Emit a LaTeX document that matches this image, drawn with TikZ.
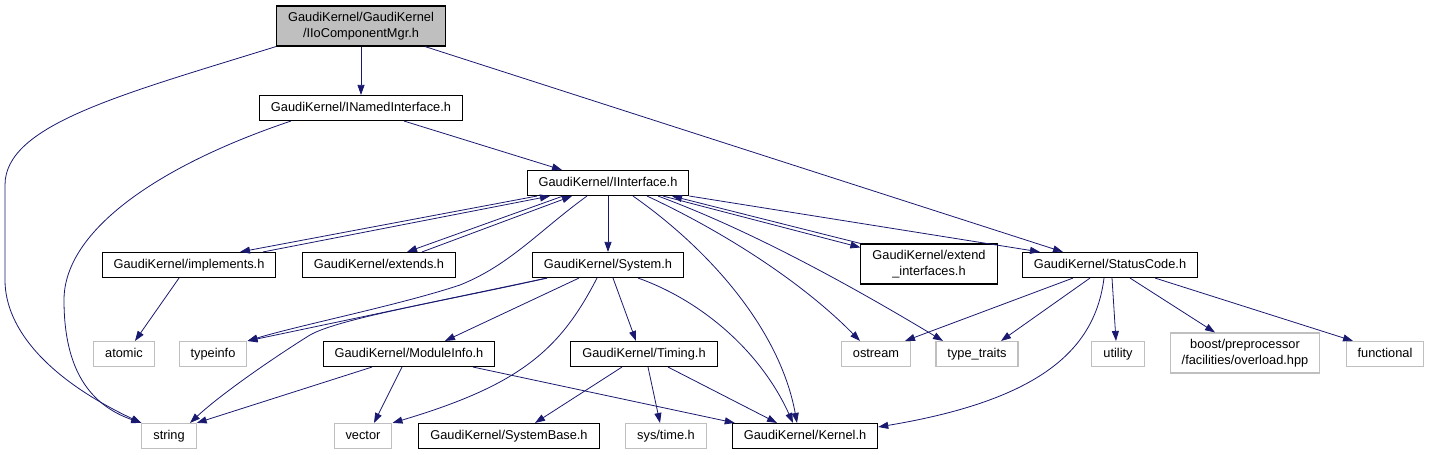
\documentclass[tikz,border=0pt]{standalone}
\usepackage{fontspec}
\setmainfont{Liberation Sans}
\usetikzlibrary{arrows.meta}
\definecolor{edgeblue}{HTML}{191970}
\definecolor{grey75}{HTML}{BFBFBF}
\begin{document}
\begin{tikzpicture}[x=1bp, y=-1bp, ->, >={Triangle[length=10bp,width=7bp]}, draw=edgeblue, line width=0.8bp]
\tikzstyle{every node}=[font=\fontsize{12.8bp}{15.5bp}\selectfont, text=black]
\tikzstyle{box}=[draw=black, fill=white, line width=1.1bp, inner xsep=11.5bp, inner ysep=0bp, align=center]
\tikzstyle{hdr}=[box, minimum height=25bp, text height=9.6bp, text depth=2.8bp]
\tikzstyle{hdrtwo}=[box, minimum height=40bp]
\tikzstyle{sys}=[draw=grey75]
\useasboundingbox (0,0) rectangle (1431,455);

\node[hdrtwo, fill=grey75] (mgr)   at (361,26)  {GaudiKernel/GaudiKernel\\/IIoComponentMgr.h};
\node[hdr]    (named)    at (361,108) {GaudiKernel/INamedInterface.h};
\node[hdr]    (iface)    at (608,183) {GaudiKernel/IInterface.h};
\node[hdr]    (impl)     at (189,265) {GaudiKernel/implements.h};
\node[hdr]    (ext)      at (379,265) {GaudiKernel/extends.h};
\node[hdr]    (sys)      at (608,265) {GaudiKernel/System.h};
\node[hdrtwo] (extif)    at (929,264) {GaudiKernel/extend\\\_interfaces.h};
\node[hdr]    (status)   at (1110,265) {GaudiKernel/StatusCode.h};
\node[hdr,sys] (atomic)  at (124,354) {atomic};
\node[hdr,sys] (typeinfo) at (213,354) {typeinfo};
\node[hdr]    (modinfo)  at (409,354) {GaudiKernel/ModuleInfo.h};
\node[hdr]    (timing)   at (644,354) {GaudiKernel/Timing.h};
\node[hdr,sys] (ostream) at (876,354) {ostream};
\node[hdr,sys] (typetr)  at (977,354) {type\_traits};
\node[hdr,sys] (utility) at (1118,354) {utility};
\node[hdrtwo,sys] (boost) at (1245,353) {boost/preprocessor\\/facilities/overload.hpp};
\node[hdr,sys] (functional) at (1385,354) {functional};
\node[hdr,sys] (string)  at (169,436) {string};
\node[hdr,sys] (vector)  at (363,436) {vector};
\node[hdr]    (sysbase)  at (509,436) {GaudiKernel/SystemBase.h};
\node[hdr,sys] (systime) at (666,436) {sys/time.h};
\node[hdr]    (kernel)   at (805,436) {GaudiKernel/Kernel.h};

\path (mgr) edge (named)
      ([xshift=64bp]mgr.south) edge ([xshift=-47bp]status.north)
      ([xshift=43bp]named.south) edge ([xshift=-46bp]iface.north);
\draw (mgr.south west) .. controls (120,95) and (5,125) .. (5,185) -- (5,280)
      .. controls (5,330) and (50,380) .. (string.north west);
\draw ([xshift=32bp]named.south west) .. controls (160,165) and (64,230) .. (64,300)
      .. controls (64,370) and (90,405) .. (string.north west);

\path ([xshift=-71bp]iface.south) edge ([xshift=51bp]impl.north)
      ([xshift=74bp]impl.north) edge ([xshift=-58bp]iface.south)
      ([xshift=-45bp]iface.south) edge ([xshift=28bp]ext.north)
      ([xshift=43bp]ext.north) edge ([xshift=-36bp]iface.south)
      (iface) edge (sys)
      ([xshift=55bp]iface.south) edge ([yshift=-4bp]extif.north west)
      (extif.north west) edge ([xshift=64bp]iface.south)
      (iface.south east) edge ([xshift=-70bp]status.north);
\draw ([xshift=-21bp]iface.south) .. controls (540,230) and (510,265) .. (460,285)
      .. controls (400,305) and (300,325) .. (typeinfo.north east);
\draw ([xshift=25bp]iface.south) .. controls (710,250) and (780,330) .. ([xshift=-8bp]kernel.north);
\draw ([xshift=39bp]iface.south) .. controls (720,230) and (800,280) .. ([xshift=-16bp]ostream.north);
\draw ([xshift=50bp]iface.south) .. controls (750,230) and (850,285) .. ([xshift=-34bp]typetr.north);

\path ([xshift=-10bp]impl.south) edge ([xshift=11bp]atomic.north);

\path ([xshift=-61bp]sys.south) edge (typeinfo.north east)
      ([xshift=-29bp]sys.south) edge ([xshift=36bp]modinfo.north)
      ([xshift=5bp]sys.south) edge ([xshift=-8bp]timing.north);
\draw ([xshift=-61bp]sys.south) .. controls (450,300) and (340,318) .. (310,335)
      .. controls (270,360) and (220,395) .. ([xshift=21bp]string.north);
\draw ([xshift=-11bp]sys.south) .. controls (560,350) and (520,385) .. (vector.north east);
\draw ([xshift=30bp]sys.south) .. controls (700,300) and (760,350) .. ([xshift=-12bp]kernel.north);

\path ([xshift=-37bp]modinfo.south) edge (string.north east)
      ([xshift=-7bp]modinfo.south) edge ([xshift=11bp]vector.north)
      ([xshift=64bp]modinfo.south) edge ([xshift=3bp]kernel.north west);
\path ([xshift=-22bp]timing.south) edge ([xshift=26bp]sysbase.north)
      ([xshift=4bp]timing.south) edge ([xshift=-6bp]systime.north)
      ([xshift=24bp]timing.south) edge ([xshift=-28bp]kernel.north);

\path ([xshift=-37bp]status.south) edge ([xshift=29bp]ostream.north)
      ([xshift=-20bp]status.south) edge ([xshift=24bp]typetr.north)
      ([xshift=2bp]status.south) edge ([xshift=-2bp]utility.north)
      ([xshift=20bp]status.south) edge ([xshift=-30bp]boost.north)
      ([xshift=45bp]status.south) edge ([xshift=-32bp]functional.north);
\draw ([xshift=-6bp]status.south) .. controls (1095,350) and (1040,400) .. ([yshift=9bp]kernel.east);
\end{tikzpicture}
\end{document}
